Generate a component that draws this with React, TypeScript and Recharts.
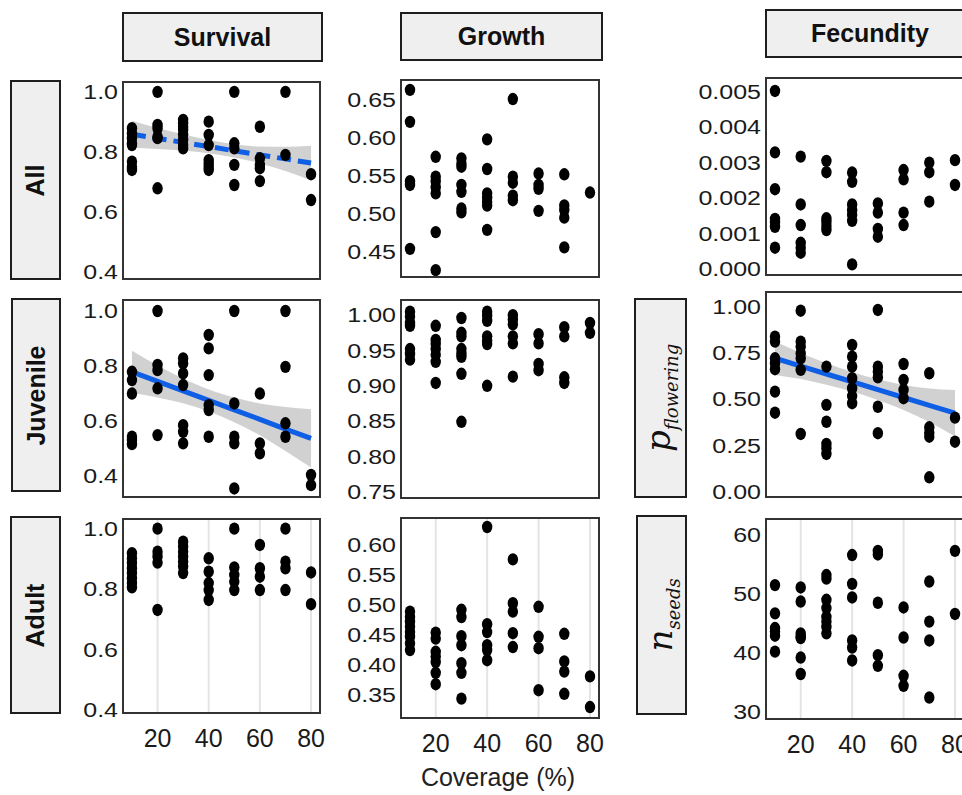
import React from 'react';
import { ComposedChart, Scatter, Area, Line, XAxis, YAxis, CartesianGrid } from 'recharts';

const coverage = [10, 20, 30, 40, 50, 60, 70, 80];
const coverageTicks = [20, 40, 60, 80];

// Survival, one list of values per coverage level
const survivalAll = [
  [0.879, 0.862, 0.846, 0.829, 0.823, 0.768, 0.751, 0.74],
  [1.0, 0.89, 0.879, 0.851, 0.846, 0.679],
  [0.907, 0.896, 0.884, 0.873, 0.857, 0.84, 0.823, 0.812],
  [0.901, 0.857, 0.823, 0.773, 0.762, 0.751, 0.74],
  [1.0, 0.829, 0.812, 0.757, 0.69],
  [0.884, 0.779, 0.757, 0.746, 0.703],
  [1.0, 0.79],
  [0.726, 0.64],
];
const survivalAllFit = [0.859, 0.845, 0.832, 0.818, 0.804, 0.79, 0.777, 0.763];
const survivalAllLo = [0.814, 0.81, 0.805, 0.796, 0.782, 0.762, 0.737, 0.705];
const survivalAllHi = [0.904, 0.88, 0.859, 0.84, 0.826, 0.818, 0.817, 0.821];

const survivalJuv = [
  [0.779, 0.749, 0.7, 0.543, 0.531, 0.516],
  [1.0, 0.804, 0.785, 0.719, 0.549],
  [0.828, 0.81, 0.773, 0.731, 0.585, 0.561, 0.519],
  [0.913, 0.864, 0.767, 0.658, 0.64, 0.543],
  [1.0, 0.664, 0.543, 0.519, 0.355],
  [0.7, 0.519, 0.483],
  [1.0, 0.797, 0.592, 0.543],
  [0.404, 0.367],
];
const survivalJuvFit = [0.779, 0.744, 0.71, 0.675, 0.641, 0.606, 0.571, 0.537];
const survivalJuvLo = [0.702, 0.686, 0.665, 0.635, 0.596, 0.548, 0.491, 0.431];
const survivalJuvHi = [0.856, 0.802, 0.755, 0.715, 0.686, 0.664, 0.651, 0.643];

const survivalAdult = [
  [0.919, 0.902, 0.886, 0.869, 0.853, 0.836, 0.82, 0.806],
  [1.0, 0.924, 0.908, 0.888, 0.731],
  [0.957, 0.941, 0.924, 0.908, 0.891, 0.875, 0.853],
  [0.902, 0.858, 0.82, 0.797, 0.764],
  [1.0, 0.872, 0.847, 0.825, 0.797],
  [0.946, 0.869, 0.841, 0.797],
  [1.0, 0.891, 0.869, 0.797],
  [0.855, 0.75],
];

// Growth
const growthAll = [
  [0.663, 0.621, 0.543, 0.538, 0.454],
  [0.575, 0.549, 0.543, 0.535, 0.527, 0.476, 0.426],
  [0.573, 0.566, 0.562, 0.538, 0.529, 0.507, 0.502],
  [0.598, 0.559, 0.527, 0.521, 0.516, 0.511, 0.479],
  [0.651, 0.549, 0.541, 0.524, 0.518],
  [0.553, 0.538, 0.533, 0.504],
  [0.552, 0.511, 0.505, 0.495, 0.456],
  [0.528],
];
const growthJuv = [
  [1.005, 0.998, 0.989, 0.985, 0.952, 0.945, 0.937],
  [0.985, 0.965, 0.959, 0.952, 0.944, 0.934, 0.904],
  [0.996, 0.975, 0.97, 0.952, 0.946, 0.941, 0.917, 0.849],
  [1.005, 0.999, 0.992, 0.97, 0.964, 0.959, 0.9],
  [1.0, 0.994, 0.987, 0.97, 0.96, 0.913],
  [0.973, 0.96, 0.931, 0.922],
  [0.983, 0.97, 0.912, 0.904],
  [0.989, 0.975],
];
const growthAdult = [
  [0.489, 0.48, 0.472, 0.464, 0.455, 0.447, 0.436, 0.425],
  [0.454, 0.444, 0.422, 0.414, 0.405, 0.387, 0.368],
  [0.492, 0.48, 0.448, 0.433, 0.403, 0.387, 0.344],
  [0.63, 0.468, 0.455, 0.433, 0.425, 0.408],
  [0.576, 0.503, 0.489, 0.453, 0.43],
  [0.497, 0.447, 0.428, 0.358],
  [0.452, 0.406, 0.389, 0.352],
  [0.381, 0.33],
];

// Fecundity
const fecundityAll = [
  [0.00502, 0.00329, 0.00225, 0.00141, 0.00132, 0.00119, 0.0006],
  [0.00317, 0.00182, 0.00124, 0.00074, 0.0006, 0.00046],
  [0.00305, 0.00273, 0.00143, 0.00133, 0.00122, 0.0011],
  [0.00272, 0.00246, 0.00182, 0.00166, 0.00152, 0.00136, 0.00013],
  [0.00185, 0.00159, 0.00113, 0.00091],
  [0.00279, 0.00253, 0.00159, 0.00124],
  [0.003, 0.00273, 0.0019],
  [0.00307, 0.00237],
];
const pFlowering = [
  [0.838, 0.811, 0.721, 0.694, 0.662, 0.541, 0.427],
  [0.978, 0.811, 0.784, 0.748, 0.721, 0.658, 0.312],
  [0.676, 0.469, 0.378, 0.258, 0.235, 0.204],
  [0.793, 0.73, 0.676, 0.613, 0.559, 0.517, 0.478],
  [0.982, 0.676, 0.649, 0.618, 0.459, 0.316],
  [0.69, 0.604, 0.55, 0.505],
  [0.64, 0.348, 0.319, 0.297, 0.078],
  [0.4, 0.27],
];
const pFloweringFit = [0.721, 0.679, 0.636, 0.594, 0.551, 0.509, 0.467, 0.424];
const pFloweringLo = [0.631, 0.609, 0.578, 0.541, 0.495, 0.441, 0.377, 0.299];
const pFloweringHi = [0.811, 0.749, 0.694, 0.647, 0.607, 0.577, 0.557, 0.549];

const nSeeds = [
  [51.5, 46.7, 44.2, 43.6, 42.9, 40.2],
  [51.1, 48.7, 43.3, 42.7, 42.5, 39.2, 36.4],
  [53.2, 52.6, 49.0, 47.6, 46.1, 45.3, 44.4, 43.3],
  [56.6, 51.7, 49.4, 42.1, 40.9, 38.7],
  [57.3, 56.7, 48.5, 39.6, 37.8],
  [47.7, 42.6, 36.1, 34.4],
  [52.1, 45.3, 42.1, 32.4],
  [57.3, 46.6],
];

const FONT = '"Liberation Sans", Arial, Helvetica, sans-serif';
const AXIS_W = 80;
const RIGHT_PAD = 24;

const toPoints = (groups: number[][]) =>
  groups.flatMap((ys, i) => ys.map((y) => ({ x: coverage[i], y })));

const toBand = (fit: number[], lo: number[], hi: number[]) =>
  coverage.map((x, i) => ({ x, fit: fit[i], band: [lo[i], hi[i]] }));

const Dot = (props: any) => <ellipse cx={props.cx} cy={props.cy} rx={5.2} ry={6.2} fill="#000" />;

const YTick = ({ x, y, payload, fmt }: any) => (
  <g transform={`translate(${x},${y})`}>
    <text transform="scale(1.25,1)" textAnchor="end" dy="0.36em" fontSize={20} fill="#1a1a1a" fontFamily={FONT}>
      {fmt(payload.value)}
    </text>
  </g>
);

const XTick = ({ x, y, payload }: any) => (
  <text x={x} y={y} textAnchor="middle" dy="0.36em" fontSize={25} fill="#1a1a1a" fontFamily={FONT}>
    {payload.value}
  </text>
);

interface PanelProps {
  left: number;
  top: number;
  w: number;
  h: number;
  domain: [number, number];
  ticks: number[];
  fmt: (v: number) => string;
  groups: number[][];
  fit?: { fit: number[]; lo: number[]; hi: number[]; dashed?: boolean };
  showX?: boolean;
}

const Panel: React.FC<PanelProps> = ({ left, top, w, h, domain, ticks, fmt, groups, fit, showX }) => {
  const band = fit ? toBand(fit.fit, fit.lo, fit.hi) : [];
  const xh = showX ? 50 : 14;
  return (
    <>
      <div style={{ position: 'absolute', left: left - AXIS_W, top }}>
        <ComposedChart
          width={AXIS_W + w + RIGHT_PAD}
          height={h + xh}
          data={band}
          margin={{ top: 0, right: RIGHT_PAD, bottom: 0, left: 0 }}
        >
          <CartesianGrid horizontal={false} stroke="#e4e4e4" strokeWidth={2} />
          <XAxis
            type="number"
            dataKey="x"
            domain={[6.5, 83.5]}
            allowDataOverflow
            ticks={coverageTicks}
            interval={0}
            axisLine={false}
            tickLine={false}
            tickSize={0}
            tickMargin={25}
            height={xh}
            tick={showX ? (p: any) => <XTick {...p} /> : false}
          />
          <YAxis
            type="number"
            domain={domain}
            allowDataOverflow
            ticks={ticks}
            interval={0}
            width={AXIS_W}
            axisLine={false}
            tickLine={false}
            tickSize={0}
            tickMargin={5}
            tick={(p: any) => <YTick {...p} fmt={fmt} />}
          />
          <Scatter data={toPoints(groups)} dataKey="y" shape={Dot} isAnimationActive={false} />
          {fit && (
            <Area
              type="monotone"
              dataKey="band"
              stroke="none"
              fill="#999"
              fillOpacity={0.45}
              isAnimationActive={false}
            />
          )}
          {fit && (
            <Line
              type="linear"
              dataKey="fit"
              stroke="#0f5ee6"
              strokeWidth={5}
              strokeDasharray={fit.dashed ? '14 7' : undefined}
              dot={false}
              isAnimationActive={false}
            />
          )}
        </ComposedChart>
      </div>
      <div
        style={{
          position: 'absolute',
          left: left - 1,
          top: top - 1,
          width: w + 2,
          height: h + 2,
          border: '2px solid #333',
          boxSizing: 'border-box',
          pointerEvents: 'none',
        }}
      />
    </>
  );
};

const Strip: React.FC<{ left: number; top: number; w: number; h: number; vertical?: boolean; children: React.ReactNode }> = ({
  left,
  top,
  w,
  h,
  vertical,
  children,
}) => (
  <div
    style={{
      position: 'absolute',
      left,
      top,
      width: w,
      height: h,
      background: '#efefef',
      border: '2px solid #1e1e1e',
      boxSizing: 'border-box',
      display: 'flex',
      alignItems: 'center',
      justifyContent: 'center',
      fontFamily: FONT,
      fontWeight: 'bold',
      fontSize: 25,
      color: '#111',
    }}
  >
    <span style={vertical ? { transform: 'rotate(-90deg)', whiteSpace: 'nowrap', display: 'inline-block' } : undefined}>
      {children}
    </span>
  </div>
);

const mathStyle: React.CSSProperties = {
  fontFamily: '"DejaVu Serif", serif',
  fontStyle: 'italic',
  fontWeight: 'normal',
  fontSize: 34,
};

const f1 = (v: number) => v.toFixed(1);
const f2 = (v: number) => v.toFixed(2);
const f3 = (v: number) => v.toFixed(3);
const f0 = (v: number) => v.toFixed(0);

export default function App() {
  return (
    <div
      style={{
        position: 'fixed',
        left: 0,
        top: 0,
        width: 962,
        height: 795,
        background: '#fff',
        overflow: 'hidden',
      }}
    >
      <Strip left={122} top={12} w={201} h={50}>Survival</Strip>
      <Strip left={400} top={12} w={203} h={49}>Growth</Strip>
      <Strip left={765} top={9} w={210} h={49}>Fecundity</Strip>

      <Strip left={10} top={80} w={51} h={200} vertical>All</Strip>
      <Strip left={11} top={298} w={50} h={194} vertical>Juvenile</Strip>
      <Strip left={10} top={516} w={51} h={198} vertical>Adult</Strip>

      <Strip left={634} top={298} w={53} h={200} vertical>
        <span style={mathStyle}>
          p<sub style={{ fontSize: 18 }}>flowering</sub>
        </span>
      </Strip>
      <Strip left={636} top={515} w={51} h={200} vertical>
        <span style={mathStyle}>
          n<sub style={{ fontSize: 18 }}>seeds</sub>
        </span>
      </Strip>

      <Panel
        left={123} top={82} w={197} h={197}
        domain={[0.377, 1.033]} ticks={[0.4, 0.6, 0.8, 1.0]} fmt={f1}
        groups={survivalAll}
        fit={{ fit: survivalAllFit, lo: survivalAllLo, hi: survivalAllHi, dashed: true }}
      />
      <Panel
        left={123} top={300} w={197} h={197}
        domain={[0.324, 1.04]} ticks={[0.4, 0.6, 0.8, 1.0]} fmt={f1}
        groups={survivalJuv}
        fit={{ fit: survivalJuvFit, lo: survivalJuvLo, hi: survivalJuvHi }}
      />
      <Panel
        left={123} top={519} w={197} h={194}
        domain={[0.39, 1.032]} ticks={[0.4, 0.6, 0.8, 1.0]} fmt={f1}
        groups={survivalAdult} showX
      />

      <Panel
        left={401} top={80} w={198} h={197}
        domain={[0.417, 0.676]} ticks={[0.45, 0.5, 0.55, 0.6, 0.65]} fmt={f2}
        groups={growthAll}
      />
      <Panel
        left={401} top={300} w={198} h={198}
        domain={[0.741, 1.0215]} ticks={[0.75, 0.8, 0.85, 0.9, 0.95, 1.0]} fmt={f2}
        groups={growthJuv}
      />
      <Panel
        left={401} top={518} w={198} h={200}
        domain={[0.3117, 0.645]} ticks={[0.35, 0.4, 0.45, 0.5, 0.55, 0.6]} fmt={f2}
        groups={growthAdult} showX
      />

      <Panel
        left={766} top={78} w={198} h={197}
        domain={[-0.000169, 0.005386]} ticks={[0, 0.001, 0.002, 0.003, 0.004, 0.005]} fmt={f3}
        groups={fecundityAll}
      />
      <Panel
        left={766} top={292} w={198} h={205}
        domain={[-0.0286, 1.079]} ticks={[0, 0.25, 0.5, 0.75, 1.0]} fmt={f2}
        groups={pFlowering}
        fit={{ fit: pFloweringFit, lo: pFloweringLo, hi: pFloweringHi }}
      />
      <Panel
        left={766} top={519} w={198} h={200}
        domain={[28.76, 62.72]} ticks={[30, 40, 50, 60]} fmt={f0}
        groups={nSeeds} showX
      />

      <div
        style={{
          position: 'absolute',
          left: 348,
          top: 763,
          width: 300,
          textAlign: 'center',
          fontFamily: FONT,
          fontSize: 25,
          color: '#222',
        }}
      >
        Coverage (%)
      </div>
    </div>
  );
}
